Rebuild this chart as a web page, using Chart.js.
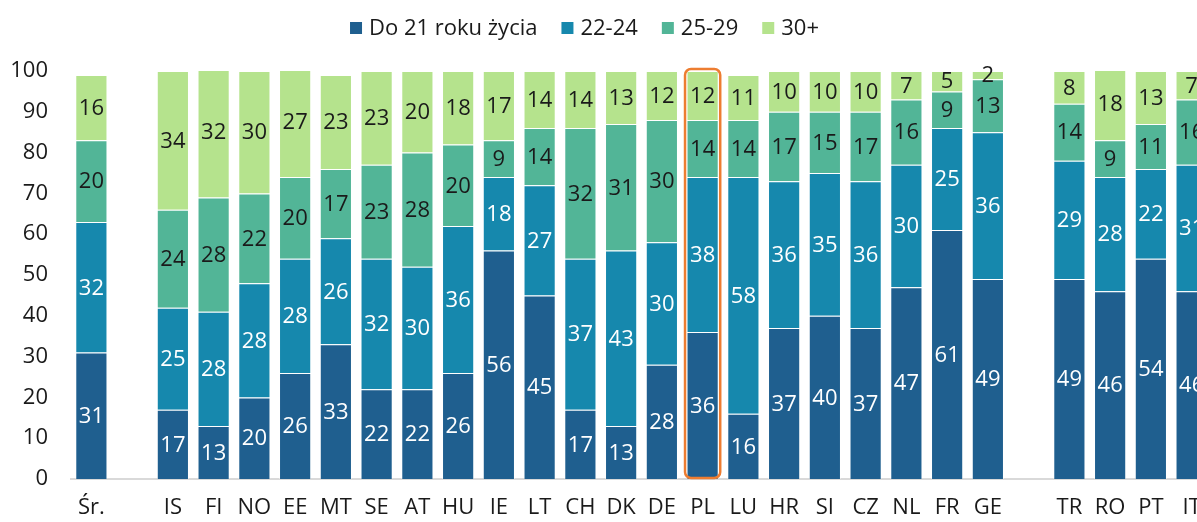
<!DOCTYPE html>
<html>
<head>
<meta charset="utf-8">
<script src="https://cdn.jsdelivr.net/npm/chart.js@4.4.1/dist/chart.umd.min.js"></script>
<style>
  html, body { margin: 0; padding: 0; background: #ffffff; overflow: hidden; }
  #wrap { width: 1225px; height: 522px; position: relative; }
</style>
</head>
<body>
<div id="wrap"><canvas id="c"></canvas></div>
<script>
const categories = ['Śr.', '', 'IS', 'FI', 'NO', 'EE', 'MT', 'SE', 'AT', 'HU', 'IE', 'LT', 'CH', 'DK', 'DE', 'PL', 'LU', 'HR', 'SI', 'CZ', 'NL', 'FR', 'GE', '', 'TR', 'RO', 'PT', 'IT'];
const seriesNames = ['Do 21 roku życia', '22-24', '25-29', '30+'];
const do21   = [31, null, 17, 13, 20, 26, 33, 22, 22, 26, 56, 45, 17, 13, 28, 36, 16, 37, 40, 37, 47, 61, 49, null, 49, 46, 54, 46];
const age2224 = [32, null, 25, 28, 28, 28, 26, 32, 30, 36, 18, 27, 37, 43, 30, 38, 58, 36, 35, 36, 30, 25, 36, null, 29, 28, 22, 31];
const age2529 = [20, null, 24, 28, 22, 20, 17, 23, 28, 20, 9, 14, 32, 31, 30, 14, 14, 17, 15, 17, 16, 9, 13, null, 14, 9, 11, 16];
const age30p  = [16, null, 34, 32, 30, 27, 23, 23, 20, 18, 17, 14, 14, 13, 12, 12, 11, 10, 10, 10, 7, 5, 2, null, 8, 18, 13, 7];
const yTicks = [0, 10, 20, 30, 40, 50, 60, 70, 80, 90, 100];
const highlightCategory = 'PL';

const colors = ['#1F5F8F', '#1688AD', '#52B597', '#B5E38D'];
const labelColors = ['#ffffff', '#ffffff', '#1a1a1a', '#1a1a1a'];
const FONT = "'Open Sans', sans-serif";
const FSIZE = 22;

const seriesData = [do21, age2224, age2529, age30p];

const valueLabels = {
  id: 'valueLabels',
  afterDatasetsDraw(chart) {
    const ctx = chart.ctx;
    ctx.save();
    ctx.font = FSIZE + 'px ' + FONT;
    ctx.textAlign = 'center';
    ctx.textBaseline = 'middle';
    chart.data.datasets.forEach((ds, di) => {
      const meta = chart.getDatasetMeta(di);
      meta.data.forEach((bar, i) => {
        const v = ds.data[i];
        if (v === null || v === undefined) return;
        const p = bar.getProps(['x', 'y', 'base'], true);
        ctx.fillStyle = labelColors[di];
        ctx.fillText(String(v), p.x, (p.y + p.base) / 2 + 1);
      });
    });
    ctx.restore();
  }
};

const highlight = {
  id: 'highlight',
  afterDatasetsDraw(chart) {
    const idx = categories.indexOf(highlightCategory);
    const first = chart.getDatasetMeta(0).data[idx];
    const last = chart.getDatasetMeta(chart.data.datasets.length - 1).data[idx];
    if (!first || !last) return;
    const a = first.getProps(['x', 'base', 'width'], true);
    const b = last.getProps(['y'], true);
    const x0 = a.x - a.width / 2 - 1.5, x1 = a.x + a.width / 2 + 1.5;
    const y0 = b.y - 2, y1 = a.base - 1;
    const r = 6;
    const ctx = chart.ctx;
    ctx.save();
    ctx.strokeStyle = '#ED7D31';
    ctx.lineWidth = 2.5;
    ctx.beginPath();
    ctx.moveTo(x0 + r, y0);
    ctx.arcTo(x1, y0, x1, y1, r);
    ctx.arcTo(x1, y1, x0, y1, r);
    ctx.arcTo(x0, y1, x0, y0, r);
    ctx.arcTo(x0, y0, x1, y0, r);
    ctx.closePath();
    ctx.stroke();
    ctx.restore();
  }
};

const customLegend = {
  id: 'customLegend',
  afterDraw(chart) {
    const ctx = chart.ctx;
    ctx.save();
    ctx.font = FSIZE + 'px ' + FONT;
    ctx.textBaseline = 'middle';
    ctx.textAlign = 'left';
    const box = 12, gapBoxText = 7, gapItems = 24, cy = 28;
    const widths = chart.data.datasets.map(ds => box + gapBoxText + ctx.measureText(ds.label).width);
    const total = widths.reduce((s, w) => s + w, 0) + gapItems * (widths.length - 1);
    let x = 584.5 - total / 2;
    chart.data.datasets.forEach((ds, i) => {
      ctx.fillStyle = ds.backgroundColor;
      ctx.fillRect(x, cy - box / 2, box, box);
      ctx.fillStyle = '#1a1a1a';
      ctx.fillText(ds.label, x + box + gapBoxText, cy + 1);
      x += widths[i] + gapItems;
    });
    ctx.restore();
  }
};

new Chart(document.getElementById('c'), {
  type: 'bar',
  data: {
    labels: categories,
    datasets: seriesData.map((d, i) => ({
      label: seriesNames[i],
      data: d,
      backgroundColor: colors[i],
      borderColor: 'rgba(255,255,255,0.45)',
      borderWidth: 1,
      barPercentage: 0.79,
      categoryPercentage: 1
    }))
  },
  options: {
    responsive: true,
    maintainAspectRatio: false,
    animation: false,
    layout: { padding: { left: 0, right: 13, top: 71, bottom: 0 } },
    plugins: {
      legend: { display: false },
      tooltip: { enabled: false }
    },
    scales: {
      x: {
        stacked: true,
        grid: { display: false, drawTicks: false },
        border: { display: true, color: '#d9d9d9', width: 2 },
        ticks: { color: '#1a1a1a', font: { family: FONT, size: FSIZE }, padding: 16, maxRotation: 0, autoSkip: false },
        afterFit(scale) { scale.height = 43; }
      },
      y: {
        stacked: true,
        min: 0,
        max: 100,
        afterBuildTicks(scale) { scale.ticks = yTicks.map(v => ({ value: v })); },
        grid: { display: false, drawTicks: false },
        border: { display: false },
        ticks: { color: '#1a1a1a', font: { family: FONT, size: FSIZE }, padding: 23 },
        afterFit(scale) { scale.width = 71; }
      }
    }
  },
  plugins: [valueLabels, highlight, customLegend]
});
</script>
</body>
</html>
